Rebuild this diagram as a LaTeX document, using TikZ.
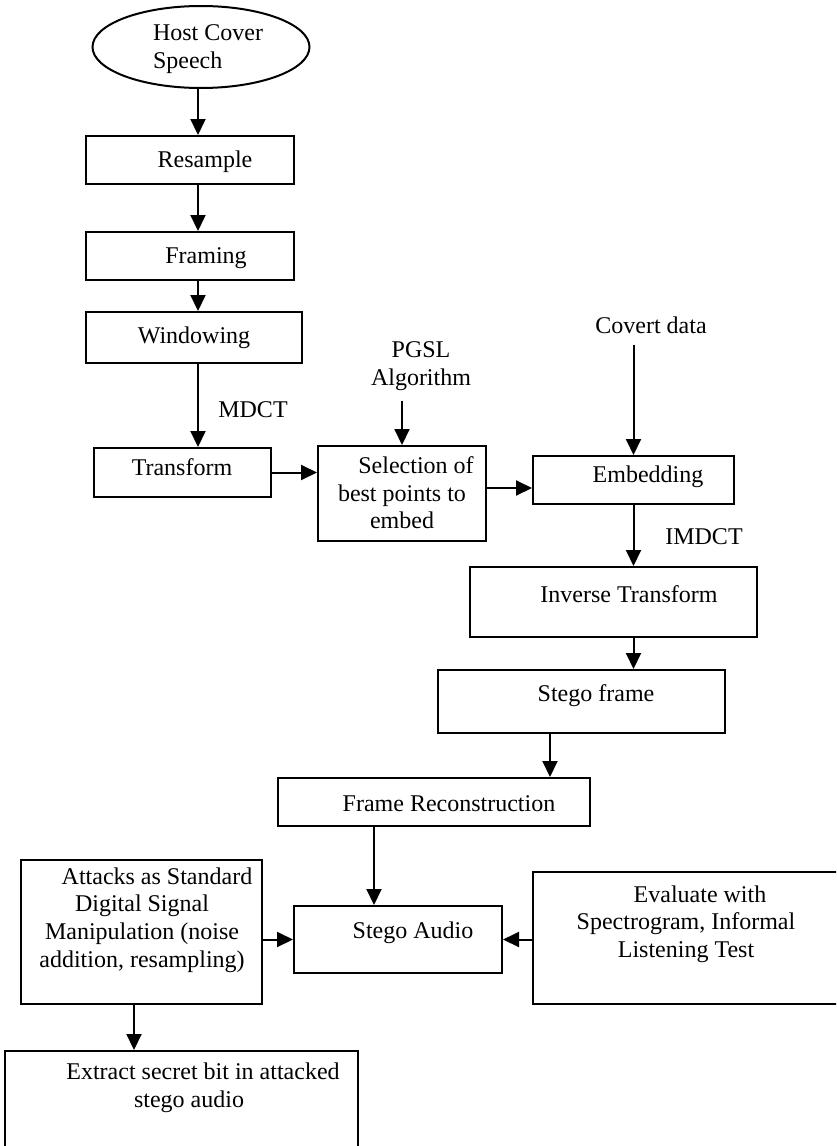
\documentclass[tikz,border=0pt]{standalone}
\usepackage{fontspec}
\setmainfont{Liberation Serif}
\usetikzlibrary{arrows.meta,shapes.geometric}
\begin{document}
\begin{tikzpicture}[x=1pt,y=-1pt,
  box/.style={draw, line width=2pt, rectangle, inner sep=0pt},
  txt/.style={inner sep=0pt, align=center, font=\fontsize{24}{27.6}\selectfont},
  arr/.style={line width=2pt, -{Triangle[length=16pt,width=15pt]}},
]
\useasboundingbox (0,0) rectangle (836,1146);
\clip (0,0) rectangle (836,1146);

% main column
\node[draw, ellipse, line width=2pt, minimum width=217pt, minimum height=82pt, inner sep=0pt] (host) at (201,47) {};
\node[txt, align=left] (hosttxt) at (208,49) {Host Cover\\Speech};
\coordinate (col) at (198,0);

\node[box, minimum width=208pt, minimum height=48pt] (resample) at (190,160) {};
\node[txt] (resampletxt) at (205,162) {Resample};

\node[box, minimum width=208pt, minimum height=48pt] (framing) at (190,256) {};
\node[txt] (framingtxt) at (206,258) {Framing};

\node[box, minimum width=216pt, minimum height=51pt] (window) at (194,337.5) {};
\node[txt] (windowtxt) at (194,338) {Windowing};

\node[txt] (mdct) at (253,410) {MDCT};

\node[box, minimum width=177pt, minimum height=49pt] (transform) at (182.5,472.5) {};
\node[txt] (transformtxt) at (182,467) {Transform};

% selection and embedding
\node[txt] (pgsl) at (421,366) {PGSL\\Algorithm};
\node[box, minimum width=168pt, minimum height=95pt] (select) at (402,493.5) {};
\node[txt] (selecttxt) at (402,493) {\hspace*{28pt}Selection of\\best points to\\embed};

\node[txt] (covert) at (651,325) {Covert data};
\node[box, minimum width=201pt, minimum height=48pt] (embed) at (633.5,480) {};
\node[txt] (embedtxt) at (648,477) {Embedding};

\node[txt] (imdct) at (704,537) {IMDCT};

\node[box, minimum width=287pt, minimum height=70pt] (inverse) at (613.5,602) {};
\node[txt] (inversetxt) at (629,594) {Inverse Transform};

\node[box, minimum width=287pt, minimum height=63pt] (stegoframe) at (581.5,701.5) {};
\node[txt] (stegoframetxt) at (596,696) {Stego frame};

\node[box, minimum width=312pt, minimum height=48pt] (recon) at (434,802) {};
\node[txt] (recontxt) at (449,804) {Frame Reconstruction};

\node[box, minimum width=208pt, minimum height=67pt] (audio) at (398,939.5) {};
\node[txt] (audiotxt) at (413,933) {Stego Audio};

\node[box, minimum width=241pt, minimum height=144pt] (attacks) at (141.5,932) {};
\node[txt] (attackstxt) at (142,920) {\hspace*{30pt}Attacks as Standard\\Digital Signal\\Manipulation (noise\\addition, resampling)};

\node[box, minimum width=307pt, minimum height=132pt] (evaluate) at (686.5,938) {};
\node[txt] (evaluatetxt) at (686,924) {\hspace*{28pt}Evaluate with\\Spectrogram, Informal\\Listening Test};

\node[box, minimum width=353pt, minimum height=109pt] (extract) at (181.5,1105.5) {};
\node[txt] (extracttxt) at (189,1088) {\hspace*{28pt}Extract secret bit in attacked\\stego audio};

% connectors
\draw[arr] (host.south -| col) -- (resample.north -| col);
\draw[arr] (resample.south -| col) -- (framing.north -| col);
\draw[arr] (framing.south -| col) -- (window.north -| col);
\draw[arr] (window.south -| col) -- (transform.north -| col);
\draw[arr] (transform.east) -- (transform.east -| select.west);
\draw[arr, shorten <=10pt] (pgsl.south -| select.north) -- (select.north);
\draw[arr] ([yshift=5.5pt]select.east) -- ([yshift=5.5pt]select.east -| embed.west);
\draw[arr, shorten <=11pt] (covert.south -| embed.north) -- (embed.north);
\draw[arr] (embed.south) -- (embed.south |- inverse.north);
\draw[arr] (inverse.south -| embed.south) -- (stegoframe.north -| embed.south);
\draw[arr] ([xshift=-31.5pt]stegoframe.south) -- ([xshift=-31.5pt]stegoframe.south |- recon.north);
\draw[arr] ([xshift=-60pt]recon.south) -- ([xshift=-60pt]recon.south |- audio.north);
\draw[arr] (audio.west -| attacks.east) -- (audio.west);
\draw[arr] (audio.east -| evaluate.west) -- (audio.east);
\draw[arr] ([xshift=-7.5pt]attacks.south) -- ([xshift=-7.5pt]attacks.south |- extract.north);
\end{tikzpicture}
\end{document}
